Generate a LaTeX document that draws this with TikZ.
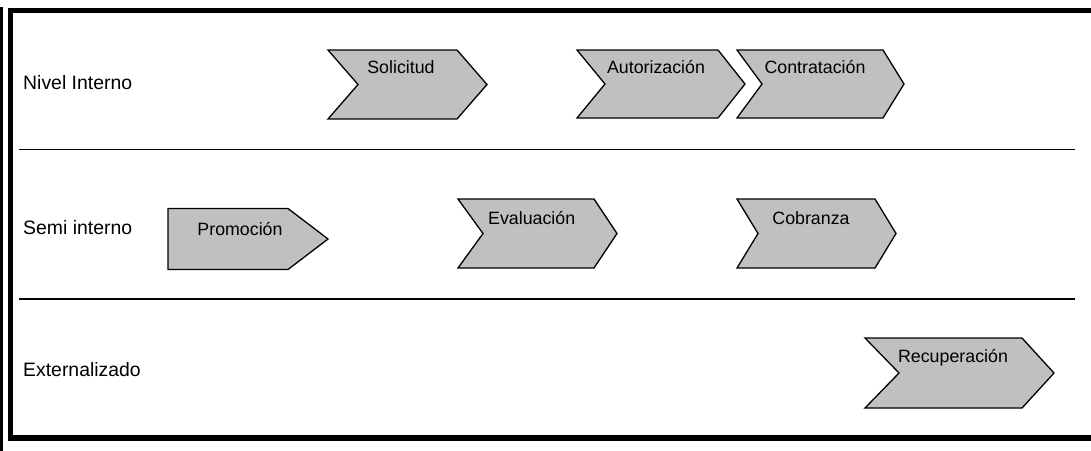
\documentclass[tikz,border=0pt]{standalone}
\usepackage{fontspec}
\setmainfont{Liberation Sans}
\definecolor{chevgray}{RGB}{192,192,192}
\begin{document}
\begin{tikzpicture}[x=1pt,y=-1pt,
  chev/.style={draw=black, fill=chevgray, line width=1.3pt, line join=miter},
  frame/.style={draw=black, line width=5.5pt},
  sep/.style={draw=black, line width=1.5pt},
  lanelabel/.style={anchor=base west, inner sep=0pt, font=\fontsize{19.4}{23}\selectfont},
  chevtext/.style={anchor=base, inner sep=0pt, font=\fontsize{17.8}{21}\selectfont}]
\useasboundingbox (0,0) rectangle (1091,450);
% frame
\draw[frame] (1096,10.3) -- (10.5,10.3) -- (10.5,438) -- (1096,438);
\draw[black, line width=2.5pt] (1.3,7) -- (1.3,452);
% lane separators
\coordinate (s1a) at (19,149.3); \coordinate (s1b) at (1075,149.3);
\coordinate (s2a) at (19,299);   \coordinate (s2b) at (1075,299);
\draw[sep] (s1a) -- (s1b);
\draw[sep] (s2a) -- (s2b);
% lane labels
\node[lanelabel] (l1) at (23,89) {Nivel Interno};
\node[lanelabel] (l2) at (23,234) {Semi interno};
\node[lanelabel] (l3) at (23,376) {Externalizado};
% chevrons
\draw[chev] (328,50) -- (457,50) -- (487,84.5) -- (457,119) -- (328,119) -- (358,84.5) -- cycle;
\node[chevtext] (solicitud) at (401,73.3) {Solicitud};
\draw[chev] (577,50) -- (718,50) -- (745,84) -- (718,118) -- (577,118) -- (605,84) -- cycle;
\node[chevtext] (autorizacion) at (656,73.3) {Autorización};
\draw[chev] (737,50) -- (883,50) -- (904,84) -- (883,118) -- (737,118) -- (762,84) -- cycle;
\node[chevtext] (contratacion) at (815,73.3) {Contratación};
\draw[chev] (168,208.5) -- (288,208.5) -- (328,239) -- (288,269.5) -- (168,269.5) -- cycle;
\node[chevtext] (promocion) at (240,235) {Promoción};
\draw[chev] (458,199) -- (594,199) -- (617,233.5) -- (594,268) -- (458,268) -- (483,233.5) -- cycle;
\node[chevtext] (evaluacion) at (531.7,224.3) {Evaluación};
\draw[chev] (737,199) -- (875,199) -- (896,233.5) -- (875,268) -- (737,268) -- (758,233.5) -- cycle;
\node[chevtext] (cobranza) at (811,224.3) {Cobranza};
\draw[chev] (865,338) -- (1022,338) -- (1054,373) -- (1022,408) -- (865,408) -- (899,373) -- cycle;
\node[chevtext] (recuperacion) at (953,362.7) {Recuperación};
\end{tikzpicture}
\end{document}
